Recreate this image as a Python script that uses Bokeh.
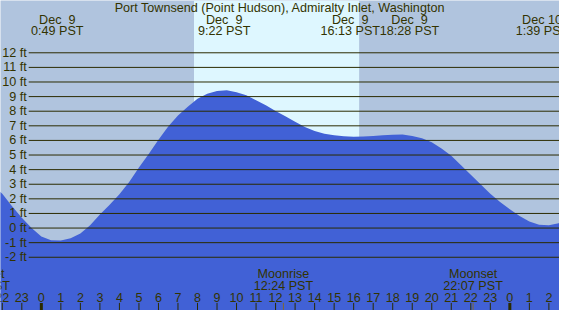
from bokeh.plotting import figure
from bokeh.models import Range1d
from bokeh.embed import file_html
from bokeh.resources import INLINE
from bokeh.core.properties import value

# ---------------- data ----------------
TITLE = "Port Townsend (Point Hudson), Admiralty Inlet, Washington"

hours = [-2.5, -2.0, -1.5, -1.0, -0.5, 0.0, 0.5, 1.0, 1.5, 2.0, 2.5, 3.0, 3.5, 4.0,
         4.5, 5.0, 5.5, 6.0, 6.5, 7.0, 7.5, 8.0, 8.5, 9.0, 9.5, 10.0, 10.5, 11.0,
         11.5, 12.0, 12.5, 13.0, 13.5, 14.0, 14.5, 15.0, 15.5, 16.0, 16.5, 17.0,
         17.5, 18.0, 18.5, 19.0, 19.5, 20.0, 20.5, 21.0, 21.5, 22.0, 22.5, 23.0,
         23.5, 24.0, 24.5, 25.0, 25.5, 26.0, 26.5, 27.0]
heights = [2.9, 2.35, 1.5, 0.7, 0.0, -0.57, -0.83, -0.86, -0.7, -0.37, 0.2, 0.93, 1.6, 2.32,
           3.15, 4.15, 5.07, 6.05, 6.95, 7.7, 8.3, 8.85, 9.2, 9.38, 9.43, 9.3, 9.1, 8.75,
           8.4, 8.02, 7.65, 7.27, 6.92, 6.65, 6.45, 6.35, 6.28, 6.25, 6.26, 6.3,
           6.35, 6.39, 6.4, 6.3, 6.15, 5.87, 5.45, 4.95, 4.3, 3.65, 3.0, 2.35,
           1.78, 1.28, 0.82, 0.45, 0.22, 0.2, 0.33, 0.6]

levels = list(range(-2, 13))
level_labels = [f"{v} ft" for v in levels]

event_times = [0.817, 9.367, 16.217, 18.467, 25.65]
event_dates = ["Dec\u00a0 9", "Dec\u00a0 9", "Dec\u00a0 9", "Dec\u00a0 9", "Dec 10"]
event_labels = ["0:49 PST", "9:22 PST", "16:13 PST", "18:28 PST", "1:39 PST"]

moon_times = [-3.13, 12.4, 22.117]
moon_names = ["Moonset", "Moonrise", "Moonset"]
moon_labels = ["20:52 PST", "12:24 PST", "22:07 PST"]

hour_ticks = list(range(-2, 27))
hour_labels = [str(h % 24) for h in hour_ticks]

sunrise = 7.82
sunset = 16.28

# ---------------- geometry / styles ----------------
X_LEFT, X_RIGHT = -2.092, 26.544
Y_TOP, Y_BOT = 15.58, -5.645
REF_W, REF_H = 575.0, 326.0


def ypx(p):
    return Y_TOP - p / REF_H * (Y_TOP - Y_BOT)


def xpx(p):
    return X_LEFT + p / REF_W * (X_RIGHT - X_LEFT)


NIGHT = "#B0C4DE"
DAY = "#DEF7FF"
TIDE = "#4161D6"
INK = "#333300"
LINE = "#2b2b00"
FONT = value("Liberation Sans")
FS = value("12.6px")

p = figure(width=559, height=310, x_range=Range1d(X_LEFT, X_RIGHT),
           y_range=Range1d(Y_BOT, Y_TOP), output_backend="svg",
           toolbar_location=None, min_border=0,
           x_axis_location=None, y_axis_location=None)
p.grid.visible = False
p.outline_line_color = None
p.background_fill_color = NIGHT
p.border_fill_color = NIGHT

# daylight
p.quad(left=[sunrise], right=[sunset], bottom=[Y_BOT], top=[Y_TOP],
       fill_color=DAY, line_color=None)

# tide
p.varea(x=hours, y1=[Y_BOT - 1] * len(hours), y2=heights, fill_color=TIDE)

# horizontal level lines
p.segment(x0=[xpx(29)] * len(levels), x1=[X_RIGHT] * len(levels),
          y0=levels, y1=levels, line_color=LINE, line_width=1)
p.text(x=[xpx(27)] * len(levels), y=levels, text=level_labels,
       text_align="right", text_baseline="middle", text_color=INK,
       text_font=FONT, text_font_size=FS)

# title
p.text(x=[(X_LEFT + X_RIGHT) / 2], y=[ypx(7.5)], text=[TITLE],
       text_align="center", text_baseline="middle", text_color=INK,
       text_font=FONT, text_font_size=FS)

# tide event labels (collision avoidance for the close pair)
centers = list(event_times)
blk = 61 / REF_W * (X_RIGHT - X_LEFT)
mid = (event_times[2] + event_times[3]) / 2
centers[2] = mid - blk / 2
centers[3] = mid + blk / 2
p.text(x=centers, y=[ypx(20)] * len(centers), text=event_dates,
       text_align="center", text_baseline="middle", text_color=INK,
       text_font=FONT, text_font_size=FS)
p.text(x=centers, y=[ypx(32.5)] * len(centers), text=event_labels,
       text_align="center", text_baseline="middle", text_color=INK,
       text_font=FONT, text_font_size=FS)

# moon labels
p.text(x=moon_times, y=[ypx(287.5)] * len(moon_times), text=moon_names,
       text_align="center", text_baseline="middle", text_color=INK,
       text_font=FONT, text_font_size=FS)
p.text(x=moon_times, y=[ypx(300.5)] * len(moon_times), text=moon_labels,
       text_align="center", text_baseline="middle", text_color=INK,
       text_font=FONT, text_font_size=FS)

# hour labels and ticks
p.text(x=hour_ticks, y=[ypx(312)] * len(hour_ticks), text=hour_labels,
       text_align="center", text_baseline="middle", text_color=INK,
       text_font=FONT, text_font_size=FS)
normal = [h for h in hour_ticks if h % 24 != 0]
midn = [h for h in hour_ticks if h % 24 == 0]
p.segment(x0=normal, x1=normal, y0=[ypx(318)] * len(normal),
          y1=[Y_BOT] * len(normal), line_color=LINE, line_width=1)
p.segment(x0=midn, x1=midn, y0=[ypx(318)] * len(midn),
          y1=[Y_BOT] * len(midn), line_color=LINE, line_width=3)
p.segment(x0=moon_times, x1=moon_times, y0=[ypx(318)] * len(moon_times),
          y1=[Y_BOT] * len(moon_times), line_color="#806a30", line_width=1)

open("out.html", "w").write(file_html(p, INLINE))
